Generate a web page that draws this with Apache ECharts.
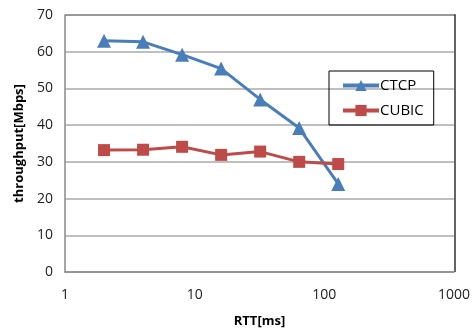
<!DOCTYPE html>
<html>
<head>
<meta charset="utf-8">
<script src="https://cdn.jsdelivr.net/npm/echarts@6/dist/echarts.min.js"></script>
<style>
  html, body { margin: 0; padding: 0; background: #fff; }
  #chart { width: 473px; height: 333px; }
</style>
</head>
<body>
<div id="chart"></div>
<script>
// RTT values (ms) and throughput (Mbps)
const rtt = [2, 4, 8, 16, 32, 64, 128];
const ctcp = [63, 62.7, 59.2, 55.4, 47, 39.2, 24];
const cubic = [33.2, 33.3, 34.1, 31.9, 32.8, 30, 29.4];

const font = "'Open Sans', 'Liberation Sans', sans-serif";
const pairs = (ys) => rtt.map((x, i) => [x, ys[i]]);

const chart = echarts.init(document.getElementById("chart"));
chart.setOption({
  animation: false,
  grid: { left: 65, right: 18, top: 15, bottom: 61 },
  legend: {
    orient: "vertical",
    left: 329,
    top: 71,
    width: 109,
    padding: [7, 10, 7, 12],
    itemGap: 10,
    itemWidth: 36,
    itemHeight: 14,
    borderColor: "#000",
    borderWidth: 1,
    lineStyle: { width: 4 },
    textStyle: { fontFamily: font, fontSize: 15, color: "#000", padding: [0, 0, 0, -4] },
    data: ["CTCP", "CUBIC"],
  },
  xAxis: {
    type: "log",
    logBase: 10,
    min: 1,
    max: 1000,
    name: "RTT[ms]",
    nameLocation: "middle",
    nameGap: 43,
    nameTextStyle: { fontFamily: font, fontSize: 13, fontWeight: "bold", color: "#000" },
    axisLine: { lineStyle: { color: "#888", width: 1.5 } },
    axisTick: { show: false },
    axisLabel: { fontFamily: font, fontSize: 14, color: "#222", margin: 16, formatter: (v) => String(v) },
    splitLine: { show: false },
  },
  yAxis: {
    type: "value",
    min: 0,
    max: 70,
    interval: 10,
    name: "throughput[Mbps]",
    nameLocation: "middle",
    nameGap: 38,
    nameTextStyle: { fontFamily: font, fontSize: 13, fontWeight: "bold", color: "#000" },
    axisLine: { show: true, lineStyle: { color: "#888", width: 1.5 } },
    axisTick: { show: false },
    axisLabel: { fontFamily: font, fontSize: 14, color: "#222", margin: 12 },
    splitLine: { lineStyle: { color: "#aaa", width: 1.5 } },
  },
  graphic: [
    {
      type: "polyline",
      shape: { points: [[65, 15], [455, 15], [455, 272]] },
      style: { stroke: "#333", lineWidth: 1.5, fill: null },
    },
  ],
  series: [
    {
      name: "CTCP",
      type: "line",
      data: pairs(ctcp),
      symbol: "triangle",
      symbolSize: 14,
      color: "#4A7EBB",
      lineStyle: { width: 3 },
    },
    {
      name: "CUBIC",
      type: "line",
      data: pairs(cubic),
      symbol: "rect",
      symbolSize: 12,
      color: "#BE4B48",
      lineStyle: { width: 3 },
    },
  ],
});
</script>
</body>
</html>
